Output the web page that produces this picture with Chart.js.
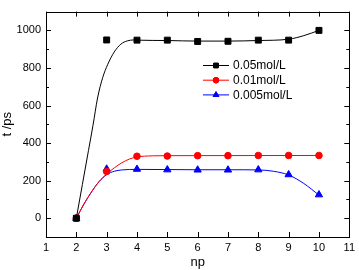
<!DOCTYPE html>
<html>
<head>
<meta charset="utf-8">
<script src="https://cdn.jsdelivr.net/npm/chart.js@4.4.1/dist/chart.umd.min.js"></script>
<style>
  html, body { margin: 0; padding: 0; background: #fff; }
</style>
</head>
<body>
<canvas id="c" width="359" height="270"></canvas>
<script>
// measured points
const npValues = [2, 3, 4, 5, 6, 7, 8, 9, 10];
const t005 = [0, 949, 948, 948, 941, 942, 948, 948, 1000];
const t001 = [0, 249, 330, 331, 333, 333, 334, 334, 334];
const t0005 = [0, 262, 261, 258, 257, 257, 258, 232, 125];

// fitted curves
const fitNp005 = [2, 2.2, 2.4, 2.55, 2.7, 2.87, 3.03, 3.25, 3.47, 3.68, 3.9, 4, 5, 6, 7, 8, 9, 9.5, 10];
const fitT005 = [0, 180, 360, 495, 640, 749, 817, 885, 927, 944, 949, 948, 946, 943, 943, 946, 953, 972, 1000];
const fitNp001 = [2, 2.25, 2.5, 2.75, 3, 3.25, 3.5, 3.75, 4, 4.5, 5, 10];
const fitT001 = [0, 75, 140, 195, 235, 268, 295, 315, 326, 332, 333, 334];
const fitNp0005 = [2, 2.25, 2.5, 2.75, 3, 3.25, 3.5, 4, 5, 6, 7, 8, 8.5, 9, 9.5, 10];
const fitT0005 = [0, 75, 140, 195, 232, 250, 257, 260, 259, 258, 258, 257, 250, 230, 185, 123];

const seriesNames = ['0.05mol/L', '0.01mol/L', '0.005mol/L'];
const seriesColors = ['#000000', '#ff0000', '#0000ff'];
const seriesMarkers = ['rect', 'circle', 'triangle'];

const xTicks = [1, 2, 3, 4, 5, 6, 7, 8, 9, 10, 11];
const yTicks = [0, 200, 400, 600, 800, 1000];
const yMinorTicks = [100, 300, 500, 700, 900];

function pairs(xs, ys) {
  return xs.map((x, i) => ({ x: x, y: ys[i] }));
}

const curves = [[fitNp005, fitT005], [fitNp001, fitT001], [fitNp0005, fitT0005]];
const points = [t005, t001, t0005];
const markerRadius = [4.2, 3.3, 4.2];

const datasets = [];
seriesNames.forEach((name, i) => {
  datasets.push({
    label: name + ' fit',
    data: pairs(curves[i][0], curves[i][1]),
    showLine: true,
    borderColor: seriesColors[i],
    borderWidth: 1,
    pointRadius: 0,
    cubicInterpolationMode: 'monotone'
  });
  datasets.push({
    label: name,
    data: pairs(npValues, points[i]),
    showLine: false,
    pointStyle: seriesMarkers[i],
    pointRadius: markerRadius[i],
    backgroundColor: seriesColors[i],
    borderColor: seriesColors[i],
    borderWidth: 1
  });
});

const framePlugin = {
  id: 'frame',
  afterDatasetsDraw(chart) {
    const ctx = chart.ctx;
    const a = chart.chartArea;
    const xs = chart.scales.x;
    const ys = chart.scales.y;
    ctx.save();
    ctx.strokeStyle = '#000';
    ctx.lineWidth = 1;
    ctx.strokeRect(Math.round(a.left) + 0.5, Math.round(a.top) + 0.5,
      Math.round(a.right - a.left), Math.round(a.bottom - a.top));
    ctx.beginPath();
    xTicks.forEach(v => {
      const px = Math.round(xs.getPixelForValue(v)) + 0.5;
      ctx.moveTo(px, a.bottom); ctx.lineTo(px, a.bottom - 5);
      ctx.moveTo(px, a.top); ctx.lineTo(px, a.top + 5);
    });
    yTicks.forEach(v => {
      const py = Math.round(ys.getPixelForValue(v)) + 0.5;
      ctx.moveTo(a.left, py); ctx.lineTo(a.left + 5, py);
      ctx.moveTo(a.right, py); ctx.lineTo(a.right - 5, py);
    });
    yMinorTicks.forEach(v => {
      const py = Math.round(ys.getPixelForValue(v)) + 0.5;
      ctx.moveTo(a.left, py); ctx.lineTo(a.left + 3, py);
      ctx.moveTo(a.right, py); ctx.lineTo(a.right - 3, py);
    });
    ctx.stroke();
    ctx.restore();
  },
  afterDraw(chart) {
    const ctx = chart.ctx;
    ctx.save();
    ctx.font = '12px "Liberation Sans", Arial, sans-serif';
    ctx.textBaseline = 'middle';
    seriesNames.forEach((name, i) => {
      const y = 65 + i * 14.7;
      ctx.strokeStyle = seriesColors[i];
      ctx.lineWidth = 1;
      ctx.beginPath();
      ctx.moveTo(203, y + 0.5); ctx.lineTo(229, y + 0.5);
      ctx.stroke();
      Chart.helpers.drawPoint(ctx, {
        pointStyle: seriesMarkers[i], radius: i === 1 ? 2.8 : 3.2, rotation: 0,
        borderWidth: 1
      }, 216, y + 0.5);
      ctx.fillStyle = seriesColors[i];
      ctx.strokeStyle = seriesColors[i];
      ctx.fill();
      ctx.stroke();
      ctx.fillStyle = '#000';
      ctx.fillText(name, 233, y + 1);
    });
    ctx.restore();
  }
};

const tickFont = { family: '"Liberation Sans", Arial, sans-serif', size: 11 };
const titleFont = { family: '"Liberation Sans", Arial, sans-serif', size: 13 };

new Chart(document.getElementById('c'), {
  type: 'scatter',
  data: { datasets: datasets },
  options: {
    responsive: false,
    animation: false,
    devicePixelRatio: 1,
    layout: { padding: { top: 2, right: 6, left: 0, bottom: 0 } },
    plugins: { legend: { display: false }, tooltip: { enabled: false } },
    scales: {
      x: {
        type: 'linear',
        min: 1,
        max: 11,
        afterBuildTicks: s => { s.ticks = xTicks.map(v => ({ value: v })); },
        afterFit: s => { s.height = 33; },
        grid: { display: false, drawTicks: false },
        border: { display: false },
        ticks: { color: '#000', font: tickFont, padding: 4, maxRotation: 0, callback: v => String(v) },
        title: { display: true, text: 'np', color: '#000', font: titleFont, padding: 0 }
      },
      y: {
        type: 'linear',
        min: -100,
        max: 1100,
        afterBuildTicks: s => { s.ticks = yTicks.map(v => ({ value: v })); },
        afterFit: s => { s.width = 46; },
        grid: { display: false, drawTicks: false },
        border: { display: false },
        ticks: { color: '#000', font: tickFont, padding: 5, callback: v => String(v) },
        title: { display: true, text: 't /ps', color: '#000', font: titleFont, padding: 0 }
      }
    }
  },
  plugins: [framePlugin]
});
</script>
</body>
</html>
